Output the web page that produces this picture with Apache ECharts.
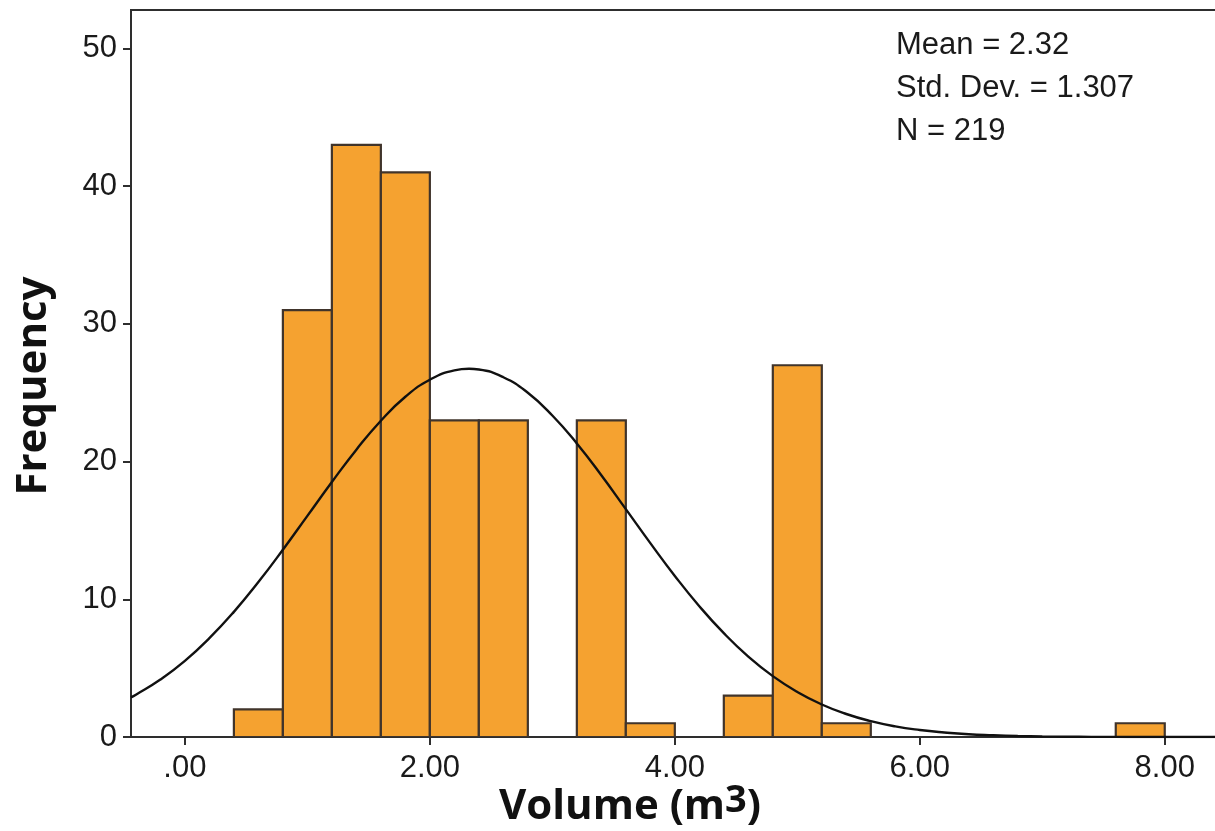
<!DOCTYPE html>
<html>
<head>
<meta charset="utf-8">
<script src="https://cdn.jsdelivr.net/npm/echarts@6/dist/echarts.min.js"></script>
<style>
html,body{margin:0;padding:0;background:#fff;}
#chart{width:1215px;height:831px;}
</style>
</head>
<body>
<div id="chart"></div>
<script>
// Histogram bins (lower edge, width 0.4) and counts
var binStarts = [0.4, 0.8, 1.2, 1.6, 2.0, 2.4, 3.2, 3.6, 4.4, 4.8, 5.2, 7.6];
var binCounts = [2, 31, 43, 41, 23, 23, 23, 1, 3, 27, 1, 1];
var binWidth = 0.4;

// Fitted normal curve
var curveX = [-0.44, -0.4, -0.2, 0.0, 0.2, 0.4, 0.6, 0.8, 1.0, 1.2, 1.4, 1.6, 1.8, 2.0, 2.2, 2.32, 2.4, 2.6, 2.8, 3.0, 3.2, 3.4, 3.6, 3.8, 4.0, 4.2, 4.4, 4.6, 4.8, 5.0, 5.2, 5.4, 5.6, 5.8, 6.0, 6.2, 6.4, 6.6, 6.8, 7.0, 7.2, 7.4, 7.6, 7.8, 8.0, 8.5];
var curveY = [2.88, 3.07, 4.17, 5.53, 7.18, 9.09, 11.25, 13.60, 16.06, 18.52, 20.87, 22.97, 24.71, 25.95, 26.63, 26.74, 26.69, 26.13, 25.00, 23.35, 21.32, 19.01, 16.55, 14.08, 11.70, 9.50, 7.54, 5.84, 4.42, 3.27, 2.36, 1.67, 1.15, 0.77, 0.51, 0.33, 0.20, 0.13, 0.075, 0.04, 0.02, 0.01, 0.006, 0.003, 0.001, 0.0];

var xTickValues = [0, 2, 4, 6, 8];
var xTickLabels = ['.00', '2.00', '4.00', '6.00', '8.00'];
var yTickValues = [0, 10, 20, 30, 40, 50];
var yTickLabels = ['0', '10', '20', '30', '40', '50'];
var statsLines = ['Mean = 2.32', 'Std. Dev. = 1.307', 'N = 219'];

var histData = binStarts.map(function (s, i) { return [s, s + binWidth, binCounts[i]]; });
var curveData = curveX.map(function (x, i) { return [x, curveY[i]]; });

var chart = echarts.init(document.getElementById('chart'), null, {renderer: 'canvas'});
var labelFont = 'Liberation Sans, Arial, sans-serif';

chart.setOption({
  animation: false,
  backgroundColor: '#ffffff',
  grid: {left: 131, right: -11, top: 10, bottom: 94, show: true, borderColor: '#2e2e2e', borderWidth: 2,
    backgroundColor: 'transparent', containLabel: false, outerBoundsMode: 'none'},
  xAxis: {
    type: 'value', min: -0.44, max: 8.5,
    axisLine: {show: true, onZero: false, lineStyle: {color: '#2e2e2e', width: 2}},
    axisTick: {show: true, customValues: xTickValues, length: 8, lineStyle: {color: '#2e2e2e', width: 2}},
    axisLabel: {show: true, customValues: xTickValues, fontSize: 31, color: '#1a1a1a', fontFamily: labelFont, margin: 16,
      formatter: function (v) { return xTickLabels[xTickValues.indexOf(Math.round(v))] || ''; }},
    splitLine: {show: false}
  },
  yAxis: {
    type: 'value', min: 0, max: 52.8,
    axisLine: {show: true, onZero: false, lineStyle: {color: '#2e2e2e', width: 2}},
    axisTick: {show: true, customValues: yTickValues, length: 8, lineStyle: {color: '#2e2e2e', width: 2}},
    axisLabel: {customValues: yTickValues, fontSize: 31, color: '#1a1a1a', fontFamily: labelFont, margin: 14,
      formatter: function (v) { return yTickLabels[yTickValues.indexOf(Math.round(v))] || ''; }},
    splitLine: {show: false}
  },
  series: [
    {
      type: 'custom',
      data: histData,
      encode: {x: [0, 1], y: 2},
      clip: true,
      renderItem: function (params, api) {
        var p0 = api.coord([api.value(0), api.value(2)]);
        var p1 = api.coord([api.value(1), 0]);
        return {
          type: 'rect',
          shape: {x: p0[0], y: p0[1], width: p1[0] - p0[0], height: p1[1] - p0[1]},
          style: {fill: '#F5A230', stroke: '#40342b', lineWidth: 2.2}
        };
      },
      z: 2
    },
    {
      type: 'line',
      data: curveData,
      smooth: true,
      showSymbol: false,
      symbol: 'none',
      clip: true,
      lineStyle: {color: '#111', width: 2.4},
      z: 3
    }
  ],
  graphic: [
    {type: 'text', left: 896, top: 24, style: {text: statsLines.join('\n'), font: '31px Liberation Sans, Arial, sans-serif', fill: '#1a1a1a', lineHeight: 43}},
    {type: 'text', x: 34, y: 386, rotation: Math.PI / 2, style: {text: 'Frequency', font: 'bold 42px Open Sans, DejaVu Sans, sans-serif', fill: '#111', align: 'center', verticalAlign: 'middle'}},
    {type: 'text', x: 630, y: 807, style: {
      text: '{a|Volume (m}{b|3}{a|)}', align: 'center', verticalAlign: 'middle',
      rich: {
        a: {font: 'bold 42px Open Sans, DejaVu Sans, sans-serif', fill: '#111'},
        b: {font: 'bold 38px Open Sans, DejaVu Sans, sans-serif', fill: '#111', padding: [0, 0, 12, 0]}
      }
    }}
  ]
});
</script>
</body>
</html>
